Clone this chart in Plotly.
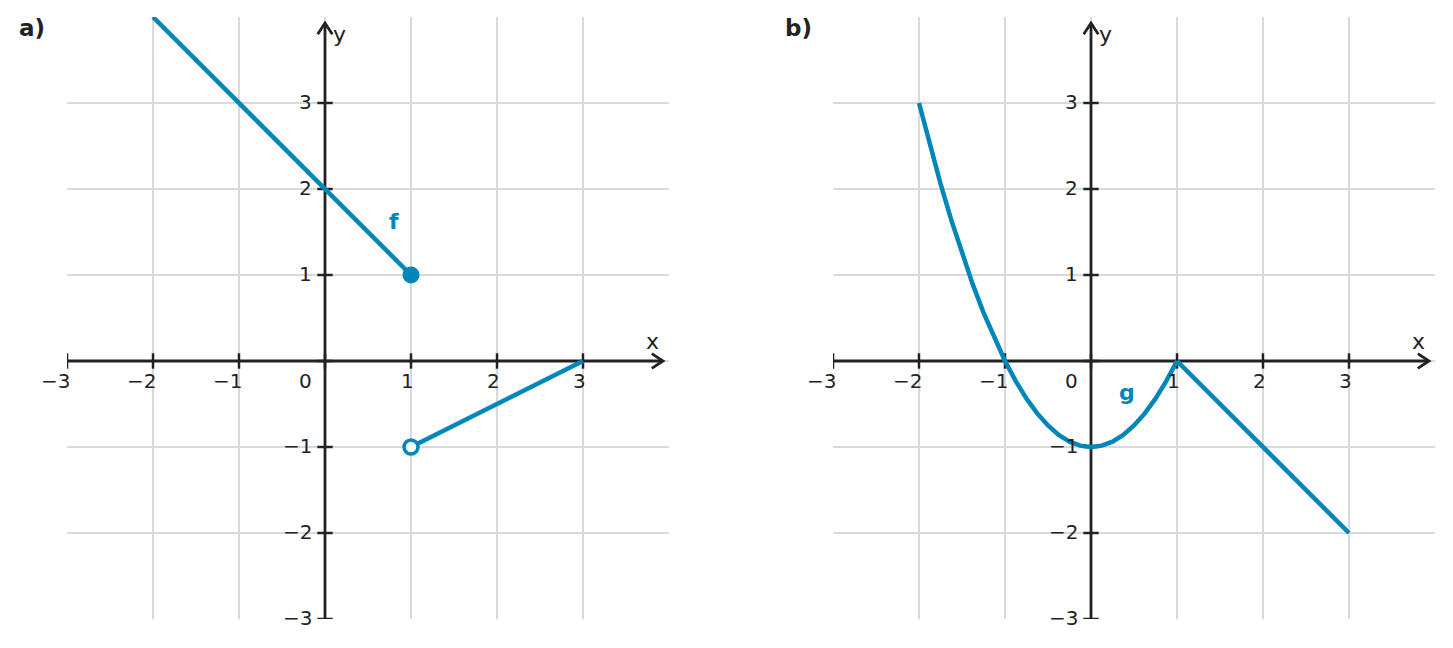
import plotly.graph_objects as go

# ---- data ----
ticks = [-3, -2, -1, 0, 1, 2, 3]
tick_labels = {-3: "−3", -2: "−2", -1: "−1", 1: "1", 2: "2", 3: "3"}

# panel a: f
f1_x = [-2, 1]
f1_y = [4, 1]
f2_x = [1, 3]
f2_y = [-1, 0]
f_closed = (1, 1)
f_open = (1, -1)

# panel b: g (parabola part, then straight part)
g1_x = [-2, -1.875, -1.75, -1.625, -1.5, -1.375, -1.25, -1.125, -1, -0.875, -0.75, -0.625,
        -0.5, -0.375, -0.25, -0.125, 0, 0.125, 0.25, 0.375, 0.5, 0.625, 0.75, 0.875, 1]
g1_y = [3, 2.515625, 2.0625, 1.640625, 1.25, 0.890625, 0.5625, 0.265625, 0, -0.234375,
        -0.4375, -0.609375, -0.75, -0.859375, -0.9375, -0.984375, -1, -0.984375, -0.9375,
        -0.859375, -0.75, -0.609375, -0.4375, -0.234375, 0]
g2_x = [1, 3]
g2_y = [0, -2]

BLUE = "#0086b9"
DARK = "#222222"
GRID = "#d9d9d9"
FONT = "DejaVu Sans"
TFS = 20

fig = go.Figure()

def add_axes(xr, yr):
    kw = dict(xaxis=xr, yaxis=yr, hoverinfo="skip", showlegend=False)
    fig.add_trace(go.Scatter(x=[-3, 3.93], y=[0, 0], mode="lines",
                             line=dict(color=DARK, width=2.8), **kw))
    fig.add_trace(go.Scatter(x=[3.80, 3.93, 3.80], y=[0.085, 0, -0.085], mode="lines",
                             line=dict(color=DARK, width=2.8), **kw))
    fig.add_trace(go.Scatter(x=[0, 0], y=[-3, 3.93], mode="lines",
                             line=dict(color=DARK, width=2.8), **kw))
    fig.add_trace(go.Scatter(x=[-0.085, 0, 0.085], y=[3.80, 3.93, 3.80], mode="lines",
                             line=dict(color=DARK, width=2.8), **kw))
    fig.add_trace(go.Scatter(x=ticks, y=[0]*len(ticks), mode="markers",
                             marker=dict(symbol="line-ns", size=11, line=dict(color=DARK, width=2.5)), **kw))
    fig.add_trace(go.Scatter(x=[0]*len(ticks), y=ticks, mode="markers",
                             marker=dict(symbol="line-ew", size=11, line=dict(color=DARK, width=2.5)), **kw))
    xref = "x" if xr == "x" else "x2"
    yref = "y" if yr == "y" else "y2"
    for k, lab in tick_labels.items():
        fig.add_annotation(x=k, y=0, xref=xref, yref=yref, text=lab, showarrow=False,
                           xanchor="right", yanchor="middle", xshift=5, yshift=-20,
                           font=dict(family=FONT, size=TFS, color=DARK))
        fig.add_annotation(x=0, y=k, xref=xref, yref=yref, text=lab, showarrow=False,
                           xanchor="right", yanchor="middle", xshift=-11, yshift=1,
                           font=dict(family=FONT, size=TFS, color=DARK))
    fig.add_annotation(x=0, y=0, xref=xref, yref=yref, text="0", showarrow=False,
                       xanchor="right", yanchor="middle", xshift=-11, yshift=-20,
                       font=dict(family=FONT, size=TFS, color=DARK))
    fig.add_annotation(x=3.81, y=0.23, xref=xref, yref=yref, text="x", showarrow=False,
                       xanchor="center", yanchor="middle",
                       font=dict(family=FONT, size=22, color=DARK))
    fig.add_annotation(x=0.17, y=3.80, xref=xref, yref=yref, text="y", showarrow=False,
                       xanchor="center", yanchor="middle",
                       font=dict(family=FONT, size=22, color=DARK))

add_axes("x", "y")
add_axes("x2", "y2")

LW = 4.5
# f
fig.add_trace(go.Scatter(x=f1_x, y=f1_y, mode="lines", line=dict(color=BLUE, width=LW),
                         xaxis="x", yaxis="y", showlegend=False))
fig.add_trace(go.Scatter(x=f2_x, y=f2_y, mode="lines", line=dict(color=BLUE, width=LW),
                         xaxis="x", yaxis="y", showlegend=False))
fig.add_trace(go.Scatter(x=[f_closed[0]], y=[f_closed[1]], mode="markers",
                         marker=dict(size=17, color=BLUE, line=dict(width=0)),
                         xaxis="x", yaxis="y", showlegend=False))
fig.add_trace(go.Scatter(x=[f_open[0]], y=[f_open[1]], mode="markers",
                         marker=dict(size=14, color="white", line=dict(color=BLUE, width=3.5)),
                         xaxis="x", yaxis="y", showlegend=False))
fig.add_annotation(x=0.8, y=1.62, xref="x", yref="y", text="<b>f</b>", showarrow=False,
                   font=dict(family=FONT, size=22, color=BLUE))

# g
fig.add_trace(go.Scatter(x=g1_x, y=g1_y, mode="lines", line=dict(color=BLUE, width=LW),
                         xaxis="x2", yaxis="y2", showlegend=False))
fig.add_trace(go.Scatter(x=g2_x, y=g2_y, mode="lines", line=dict(color=BLUE, width=LW),
                         xaxis="x2", yaxis="y2", showlegend=False))
fig.add_annotation(x=0.42, y=-0.37, xref="x2", yref="y2", text="<b>g</b>", showarrow=False,
                   font=dict(family=FONT, size=22, color=BLUE))

# panel labels
fig.add_annotation(x=17/1453, y=1-28/648, xref="paper", yref="paper", text="<b>a)</b>",
                   showarrow=False, xanchor="left", yanchor="middle",
                   font=dict(family=FONT, size=23, color=DARK))
fig.add_annotation(x=783/1453, y=1-28/648, xref="paper", yref="paper", text="<b>b)</b>",
                   showarrow=False, xanchor="left", yanchor="middle",
                   font=dict(family=FONT, size=23, color=DARK))

ax_common = dict(range=[-3, 4], tickvals=ticks, showticklabels=False, showgrid=True,
                 gridcolor=GRID, gridwidth=1.8, zeroline=False, showline=False, ticks="",
                 fixedrange=True)
ydom = [29/648, 631/648]
fig.update_layout(
    width=1453, height=648, margin=dict(l=0, r=0, t=0, b=0),
    paper_bgcolor="white", plot_bgcolor="white",
    xaxis=dict(domain=[67/1453, 669/1453], anchor="y", **ax_common),
    yaxis=dict(domain=ydom, anchor="x", **ax_common),
    xaxis2=dict(domain=[833/1453, 1435/1453], anchor="y2", **ax_common),
    yaxis2=dict(domain=ydom, anchor="x2", **ax_common),
    font=dict(family=FONT),
)

fig.write_html("out.html")
